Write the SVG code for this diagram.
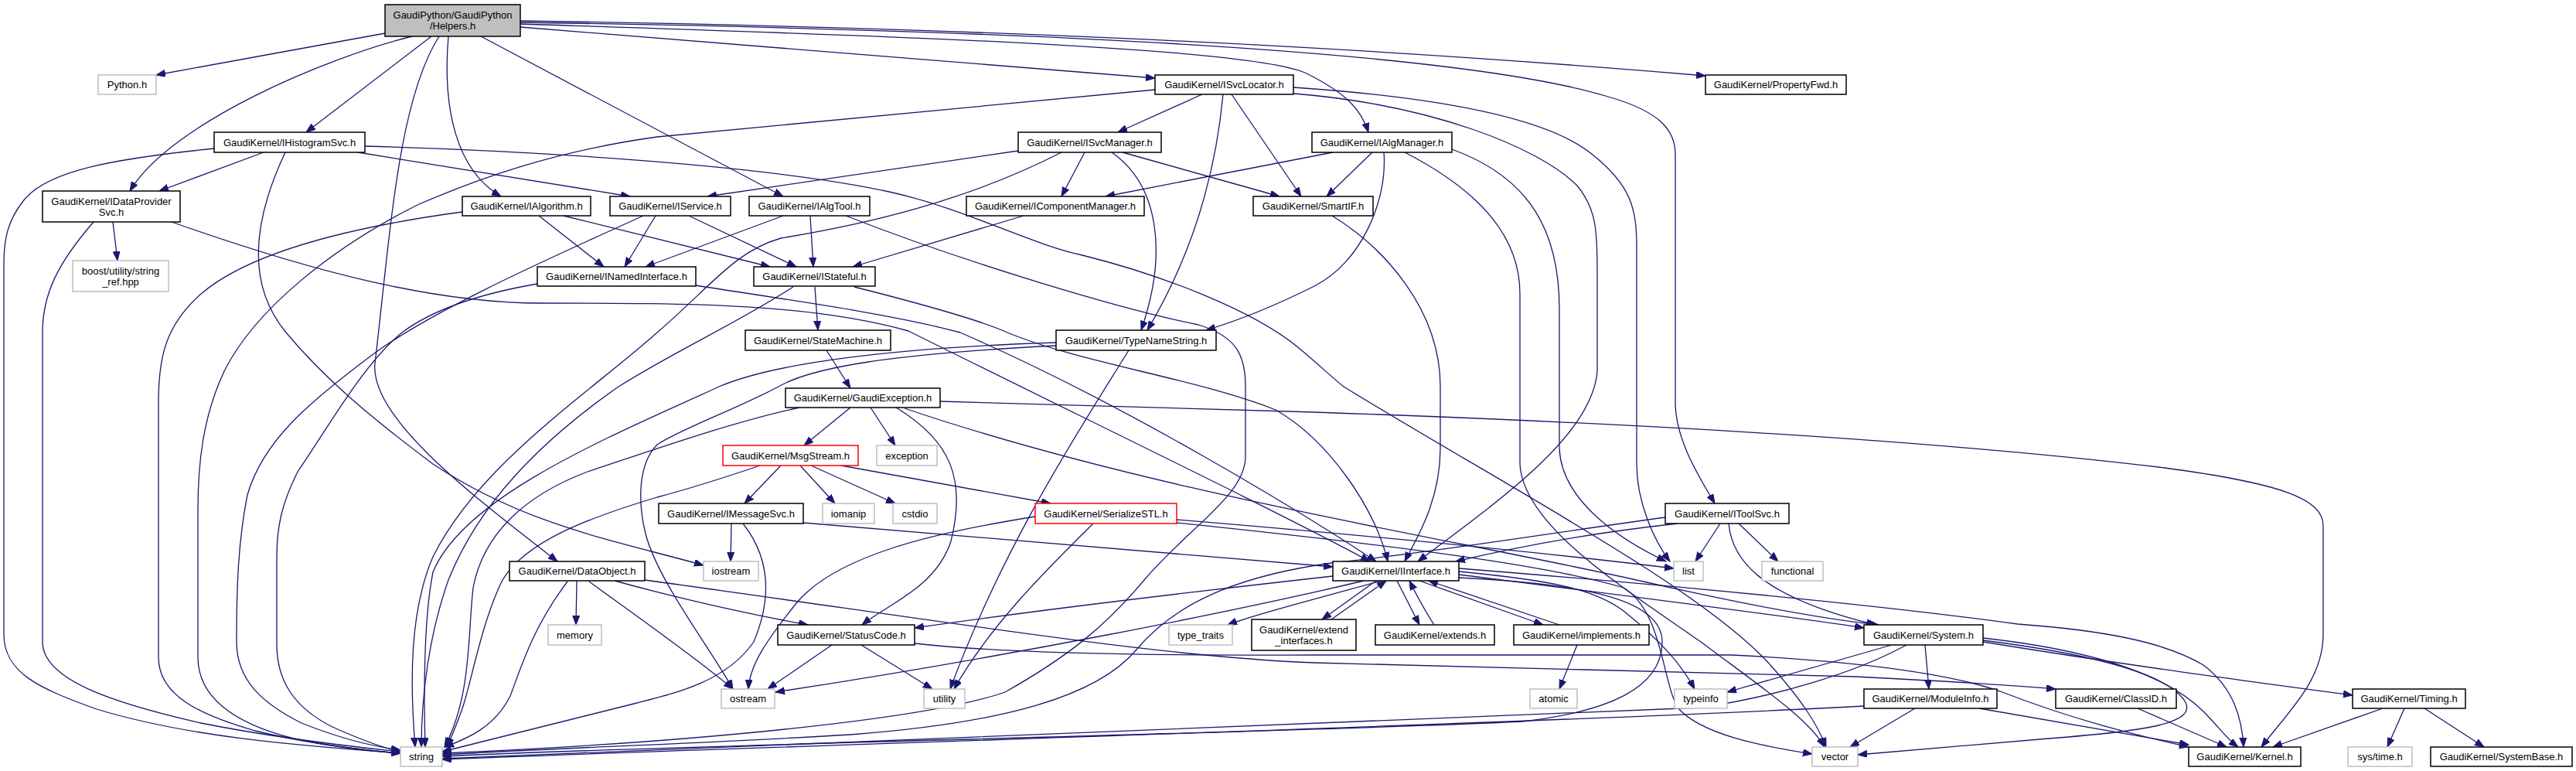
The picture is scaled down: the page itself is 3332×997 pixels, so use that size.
<svg xmlns="http://www.w3.org/2000/svg" width="3332" height="997" viewBox="0 0 3332 997">
<defs>
<marker id="a" markerUnits="userSpaceOnUse" markerWidth="13" markerHeight="10" refX="12" refY="4.5" orient="auto"><path d="M0,0 L12,4.5 L0,9 z" fill="#191970" stroke="#191970" stroke-width="1"/></marker>
</defs>
<style>
.n rect{fill:#fff;stroke:#000;stroke-width:1.5}
.g rect{stroke:#bfbfbf}
.r rect{stroke:#ff0000}
.m rect{fill:#bfbfbf}
text{font-family:"Liberation Sans",Arial,Helvetica,sans-serif;font-size:13px;text-anchor:middle;fill:#000}
#edges path{fill:none;stroke:#191970;stroke-width:1.3;marker-end:url(#a)}
</style>
<rect width="3332" height="997" fill="#fff"/>
<g id="edges">
<path d="M498,43 L202,97"/>
<path d="M533,47 C420,75 220,160 168,247"/>
<path d="M558,47 L396,171"/>
<path d="M568,47 C515,130 505,300 485,470 C478,540 610,640 721,726"/>
<path d="M580,47 C572,140 590,220 648,254"/>
<path d="M622,47 L1013,254"/>
<path d="M673,35 L1494,101"/>
<path d="M673,31 C1100,45 1620,60 1690,95 C1740,120 1760,140 1770,171"/>
<path d="M673,27 C1200,35 1700,55 2206,98"/>
<path d="M673,29 C1400,40 1900,70 2080,125 C2150,145 2167,170 2167,200 L2167,520 C2167,570 2200,620 2218,651"/>
<path d="M277,192 C150,205 60,220 30,260 C10,285 5,310 5,340 L5,820 C5,870 50,890 125,917 C250,955 400,965 518,974"/>
<path d="M341,197 L206,247"/>
<path d="M369,197 C325,290 320,370 370,430 C420,490 480,540 560,600 C680,680 800,700 910,731"/>
<path d="M463,197 L815,254"/>
<path d="M472,189 C700,195 1000,215 1150,248 C1250,270 1330,315 1400,330 C1500,355 1620,400 1680,450 C1710,475 1725,490 1738,500 C1950,630 2200,760 2290,860 C2330,905 2350,935 2362,966"/>
<path d="M121,287 C75,340 55,380 55,430 L55,830 C55,880 150,910 260,935 C360,955 450,965 518,972"/>
<path d="M146,287 L152,337"/>
<path d="M222,287 C400,350 560,392 700,392 C900,392 1050,393 1175,428 C1400,540 1650,660 1772,726"/>
<path d="M598,274 C480,290 330,320 260,380 C215,420 205,460 205,520 L205,850 C205,900 260,925 330,945 C400,962 470,970 518,974"/>
<path d="M697,279 L781,345"/>
<path d="M729,279 L996,345"/>
<path d="M832,279 C720,330 560,400 480,460 C400,520 340,570 320,640 C308,700 306,760 306,830 C306,880 340,910 390,935 C440,955 480,965 518,970"/>
<path d="M848,279 L808,345"/>
<path d="M891,279 L1030,345"/>
<path d="M695,367 C620,380 560,400 520,430 C470,470 420,560 385,610 C365,650 358,680 358,720 L358,833 C358,880 380,915 430,940 C470,958 500,968 518,972"/>
<path d="M900,369 C1000,385 1150,405 1242,430 C1450,520 1680,660 1780,726"/>
<path d="M1026,371 C950,420 880,450 800,500 C700,570 620,650 580,750 C555,820 545,900 545,966"/>
<path d="M1054,371 L1058,427"/>
<path d="M1105,371 C1200,395 1270,415 1303,430 C1400,470 1550,490 1650,530 C1720,570 1780,660 1795,726"/>
<path d="M1069,453 L1100,502"/>
<path d="M1366,443 C1150,450 1000,470 930,500 C800,560 600,640 560,740 C548,800 548,900 550,966"/>
<path d="M1366,447 C1150,458 1050,475 1007,500 C950,530 880,555 850,575 C825,600 825,650 835,690 C850,750 920,840 948,891"/>
<path d="M1460,453 C1400,550 1300,700 1229,891"/>
<path d="M1100,527 L1040,576"/>
<path d="M1126,527 L1158,576"/>
<path d="M1159,527 C1230,570 1250,620 1230,700 C1210,760 1150,780 1115,808"/>
<path d="M1170,528 C1500,640 1900,700 2130,753 C2250,780 2350,800 2430,808"/>
<path d="M1216,519 L1700,533 C2200,550 2550,575 2800,605 C2950,625 3005,645 3005,680 L3005,820 C3005,880 2960,920 2925,966"/>
<path d="M1034,527 C950,545 850,580 760,610 C680,640 625,690 612,760 C605,820 610,900 575,966"/>
<path d="M1010,602 L963,651"/>
<path d="M1035,602 L1080,651"/>
<path d="M1049,602 L1158,651"/>
<path d="M1088,602 L1359,651"/>
<path d="M983,602 C930,620 880,635 850,643 C760,670 680,700 650,750 C625,800 612,870 600,910 C592,935 585,950 578,966"/>
<path d="M946,677 L945,726"/>
<path d="M961,677 C995,720 1000,770 975,830 C940,880 880,895 820,910 C700,940 620,960 572,972"/>
<path d="M1039,676 L1724,733"/>
<path d="M1339,668 C1200,690 1080,720 1030,780 C990,830 970,860 968,891"/>
<path d="M1414,677 C1350,740 1280,810 1234,891"/>
<path d="M1522,672 C1800,695 2000,715 2165,735"/>
<path d="M1522,676 C1800,705 2000,730 2100,760 C2150,790 2150,880 2170,915 C2200,950 2280,965 2344,975"/>
<path d="M2170,677 C2050,690 1950,710 1883,726"/>
<path d="M2225,677 L2193,726"/>
<path d="M2236,677 C2240,720 2270,770 2426,808"/>
<path d="M2249,677 L2300,726"/>
<path d="M2154,669 C2000,690 1850,715 1722,728 C1600,745 1520,780 1470,840 C1420,900 1300,935 1100,950 C900,962 700,968 572,976"/>
<path d="M1724,745 C1500,770 1300,795 1183,812"/>
<path d="M1764,751 C1600,790 1300,850 1003,895"/>
<path d="M1787,751 C1700,775 1620,795 1588,808"/>
<path d="M1780,751 L1710,801"/>
<path d="M1722,801 L1793,751"/>
<path d="M1807,751 L1836,808"/>
<path d="M1855,808 C1840,785 1830,765 1823,751"/>
<path d="M1836,751 L1996,808"/>
<path d="M2017,808 L1848,751"/>
<path d="M1887,743 C2100,770 2300,795 2411,812"/>
<path d="M1887,739 C2000,750 2060,760 2100,790 C2150,830 2175,860 2192,891"/>
<path d="M1887,735 C2200,760 2450,785 2610,807 C2720,815 2800,830 2850,860 C2890,890 2900,930 2902,966"/>
<path d="M1887,747 C2050,755 2150,775 2150,830 C2150,890 2080,920 1970,933 C1600,950 900,962 572,978"/>
<path d="M2040,834 L2017,891"/>
<path d="M2447,834 L2234,895"/>
<path d="M2466,834 C2400,870 2300,900 2200,915 C1600,940 900,965 572,981"/>
<path d="M2490,834 L2495,891"/>
<path d="M2565,828 C2700,845 2800,870 2825,905 C2845,935 2780,945 2650,955 C2550,963 2470,970 2403,976"/>
<path d="M2565,825 C2700,840 2800,870 2850,920 C2870,940 2880,955 2895,966"/>
<path d="M2565,830 C2750,860 2900,880 3043,899"/>
<path d="M2411,913 C2000,935 1000,965 572,982"/>
<path d="M2477,916 L2393,966"/>
<path d="M2560,916 L2831,963"/>
<path d="M2765,916 L2880,966"/>
<path d="M3082,916 L2940,966"/>
<path d="M3110,916 L3088,966"/>
<path d="M3136,916 L3213,966"/>
<path d="M1076,834 L993,891"/>
<path d="M1114,834 L1206,891"/>
<path d="M1183,832 C1300,845 1500,848 1700,847 L2240,847 C2400,855 2520,870 2590,895 C2680,930 2760,950 2831,966"/>
<path d="M734,752 C690,810 675,860 660,900 C640,940 605,955 575,966"/>
<path d="M746,751 L745,808"/>
<path d="M762,752 C800,780 900,850 948,891"/>
<path d="M795,751 C900,780 1000,800 1045,808"/>
<path d="M834,750 C1200,800 1500,850 1700,857 C1900,864 2200,868 2400,875 C2500,880 2600,886 2659,891"/>
<path d="M1013,279 L835,345"/>
<path d="M1048,279 L1052,345"/>
<path d="M1094,279 C1250,340 1450,400 1550,420 C1600,435 1611,460 1611,500 L1611,590 C1611,640 1540,680 1480,750 C1430,810 1380,850 1300,895 C1200,930 900,960 572,974"/>
<path d="M1324,279 L1103,345"/>
<path d="M1317,195 L915,254"/>
<path d="M1373,197 C1250,260 1120,290 1010,308 C950,325 920,370 850,430 C760,510 620,600 560,720 C530,790 530,880 537,966"/>
<path d="M1403,197 L1373,254"/>
<path d="M1438,197 C1500,240 1510,330 1476,427"/>
<path d="M1452,197 L1655,254"/>
<path d="M1494,116 L850,177 C720,195 620,230 540,265 C430,320 330,400 290,480 C262,540 256,600 256,660 L256,850 C256,900 300,935 380,955 C440,968 490,972 518,974"/>
<path d="M1555,122 L1446,171"/>
<path d="M1582,122 C1570,250 1530,350 1484,427"/>
<path d="M1593,122 L1683,254"/>
<path d="M1673,113 C1850,125 2000,150 2060,200 C2110,240 2117,270 2117,320 L2117,600 C2117,650 2140,700 2160,726"/>
<path d="M1673,121 C1850,135 1990,190 2040,240 C2065,270 2066,300 2066,350 L2066,480 C2060,560 1950,640 1834,726"/>
<path d="M1724,197 L1430,254"/>
<path d="M1775,197 L1716,254"/>
<path d="M1790,197 C1795,260 1760,340 1700,370 C1640,400 1600,415 1560,427"/>
<path d="M1817,197 C1920,250 1966,310 1966,380 L1966,600 C1970,680 2100,760 2200,830 C2280,890 2340,930 2360,966"/>
<path d="M1878,193 C1980,230 2017,300 2017,400 L2017,580 C2020,650 2100,700 2155,726"/>
<path d="M1723,279 C1790,320 1863,400 1863,500 L1863,580 C1863,650 1830,700 1817,726"/>
</g>
<g id="main" class="n m"><rect x="498" y="6" width="175" height="41"/><text x="585.5" y="24">GaudiPython/GaudiPython</text><text x="585.5" y="38">/Helpers.h</text></g>
<g id="python" class="n g"><rect x="127" y="97" width="75" height="25"/><text x="164.5" y="114.1">Python.h</text></g>
<g id="ihist" class="n"><rect x="277" y="171" width="195" height="26"/><text x="374.5" y="188.6">GaudiKernel/IHistogramSvc.h</text></g>
<g id="idps" class="n"><rect x="55" y="247" width="178" height="40"/><text x="144" y="264.6">GaudiKernel/IDataProvider</text><text x="144" y="278.6">Svc.h</text></g>
<g id="ialg" class="n"><rect x="598" y="254" width="166" height="25"/><text x="681" y="271.1">GaudiKernel/IAlgorithm.h</text></g>
<g id="iservice" class="n"><rect x="789" y="254" width="156" height="25"/><text x="867" y="271.1">GaudiKernel/IService.h</text></g>
<g id="boost" class="n g"><rect x="94" y="337" width="124" height="40"/><text x="156" y="354.6">boost/utility/string</text><text x="156" y="368.6">_ref.hpp</text></g>
<g id="inamed" class="n"><rect x="695" y="345" width="205" height="25"/><text x="797.5" y="362.1">GaudiKernel/INamedInterface.h</text></g>
<g id="isvcloc" class="n"><rect x="1494" y="97" width="179" height="25"/><text x="1583.5" y="114.1">GaudiKernel/ISvcLocator.h</text></g>
<g id="isvcmgr" class="n"><rect x="1317" y="171" width="185" height="26"/><text x="1409.5" y="188.6">GaudiKernel/ISvcManager.h</text></g>
<g id="ialgtool" class="n"><rect x="969" y="254" width="156" height="25"/><text x="1047" y="271.1">GaudiKernel/IAlgTool.h</text></g>
<g id="icompmgr" class="n"><rect x="1250" y="254" width="230" height="25"/><text x="1365" y="271.1">GaudiKernel/IComponentManager.h</text></g>
<g id="smartif" class="n"><rect x="1621" y="254" width="155" height="25"/><text x="1698.5" y="271.1">GaudiKernel/SmartIF.h</text></g>
<g id="istateful" class="n"><rect x="975" y="345" width="157" height="25"/><text x="1053.5" y="362.1">GaudiKernel/IStateful.h</text></g>
<g id="statemachine" class="n"><rect x="964" y="427" width="188" height="26"/><text x="1058" y="444.6">GaudiKernel/StateMachine.h</text></g>
<g id="typename" class="n"><rect x="1366" y="427" width="207" height="26"/><text x="1469.5" y="444.6">GaudiKernel/TypeNameString.h</text></g>
<g id="ialgmgr" class="n"><rect x="1697" y="171" width="181" height="26"/><text x="1787.5" y="188.6">GaudiKernel/IAlgManager.h</text></g>
<g id="propfwd" class="n"><rect x="2206" y="97" width="182" height="25"/><text x="2297" y="114.1">GaudiKernel/PropertyFwd.h</text></g>
<g id="dataobj" class="n"><rect x="659" y="726" width="175" height="25"/><text x="746.5" y="743.1">GaudiKernel/DataObject.h</text></g>
<g id="memory" class="n g"><rect x="709" y="808" width="69" height="26"/><text x="743.5" y="825.6">memory</text></g>
<g id="string" class="n g"><rect x="518" y="966" width="54" height="25"/><text x="545" y="983.1">string</text></g>
<g id="gexc" class="n"><rect x="1016" y="502" width="200" height="25"/><text x="1116" y="519.1">GaudiKernel/GaudiException.h</text></g>
<g id="msgstream" class="n r"><rect x="935" y="576" width="175" height="26"/><text x="1022.5" y="593.6">GaudiKernel/MsgStream.h</text></g>
<g id="exception" class="n g"><rect x="1134" y="576" width="78" height="26"/><text x="1173" y="593.6">exception</text></g>
<g id="imsgsvc" class="n"><rect x="852" y="651" width="187" height="26"/><text x="945.5" y="668.6">GaudiKernel/IMessageSvc.h</text></g>
<g id="iomanip" class="n g"><rect x="1064" y="651" width="67" height="26"/><text x="1097.5" y="668.6">iomanip</text></g>
<g id="cstdio" class="n g"><rect x="1155" y="651" width="57" height="26"/><text x="1183.5" y="668.6">cstdio</text></g>
<g id="serial" class="n r"><rect x="1339" y="651" width="183" height="26"/><text x="1430.5" y="668.6">GaudiKernel/SerializeSTL.h</text></g>
<g id="iostream" class="n g"><rect x="910" y="726" width="71" height="25"/><text x="945.5" y="743.1">iostream</text></g>
<g id="statuscode" class="n"><rect x="1006" y="808" width="177" height="26"/><text x="1094.5" y="825.6">GaudiKernel/StatusCode.h</text></g>
<g id="ostream" class="n g"><rect x="933" y="891" width="69" height="25"/><text x="967.5" y="908.1">ostream</text></g>
<g id="utility" class="n g"><rect x="1195" y="891" width="53" height="25"/><text x="1221.5" y="908.1">utility</text></g>
<g id="typetraits" class="n g"><rect x="1512" y="808" width="82" height="26"/><text x="1553" y="825.6">type_traits</text></g>
<g id="extendif" class="n"><rect x="1619" y="801" width="135" height="40"/><text x="1686.5" y="818.6">GaudiKernel/extend</text><text x="1686.5" y="832.6">_interfaces.h</text></g>
<g id="itoolsvc" class="n"><rect x="2154" y="651" width="160" height="26"/><text x="2234" y="668.6">GaudiKernel/IToolSvc.h</text></g>
<g id="iinterface" class="n"><rect x="1724" y="726" width="163" height="25"/><text x="1805.5" y="743.1">GaudiKernel/IInterface.h</text></g>
<g id="list" class="n g"><rect x="2165" y="726" width="38" height="25"/><text x="2184" y="743.1">list</text></g>
<g id="functional" class="n g"><rect x="2279" y="726" width="79" height="25"/><text x="2318.5" y="743.1">functional</text></g>
<g id="extends" class="n"><rect x="1779" y="808" width="154" height="26"/><text x="1856" y="825.6">GaudiKernel/extends.h</text></g>
<g id="implements" class="n"><rect x="1958" y="808" width="175" height="26"/><text x="2045.5" y="825.6">GaudiKernel/implements.h</text></g>
<g id="system" class="n"><rect x="2411" y="808" width="154" height="26"/><text x="2488" y="825.6">GaudiKernel/System.h</text></g>
<g id="atomic" class="n g"><rect x="1979" y="891" width="61" height="25"/><text x="2009.5" y="908.1">atomic</text></g>
<g id="typeinfo" class="n g"><rect x="2166" y="891" width="68" height="25"/><text x="2200" y="908.1">typeinfo</text></g>
<g id="moduleinfo" class="n"><rect x="2411" y="891" width="172" height="25"/><text x="2497" y="908.1">GaudiKernel/ModuleInfo.h</text></g>
<g id="vector" class="n g"><rect x="2344" y="966" width="59" height="25"/><text x="2373.5" y="983.1">vector</text></g>
<g id="classid" class="n"><rect x="2659" y="891" width="156" height="25"/><text x="2737" y="908.1">GaudiKernel/ClassID.h</text></g>
<g id="timing" class="n"><rect x="3043" y="891" width="146" height="25"/><text x="3116" y="908.1">GaudiKernel/Timing.h</text></g>
<g id="kernel" class="n"><rect x="2831" y="966" width="145" height="25"/><text x="2903.5" y="983.1">GaudiKernel/Kernel.h</text></g>
<g id="systime" class="n g"><rect x="3037" y="966" width="83" height="25"/><text x="3078.5" y="983.1">sys/time.h</text></g>
<g id="systembase" class="n"><rect x="3144" y="966" width="183" height="25"/><text x="3235.5" y="983.1">GaudiKernel/SystemBase.h</text></g>
</svg>
